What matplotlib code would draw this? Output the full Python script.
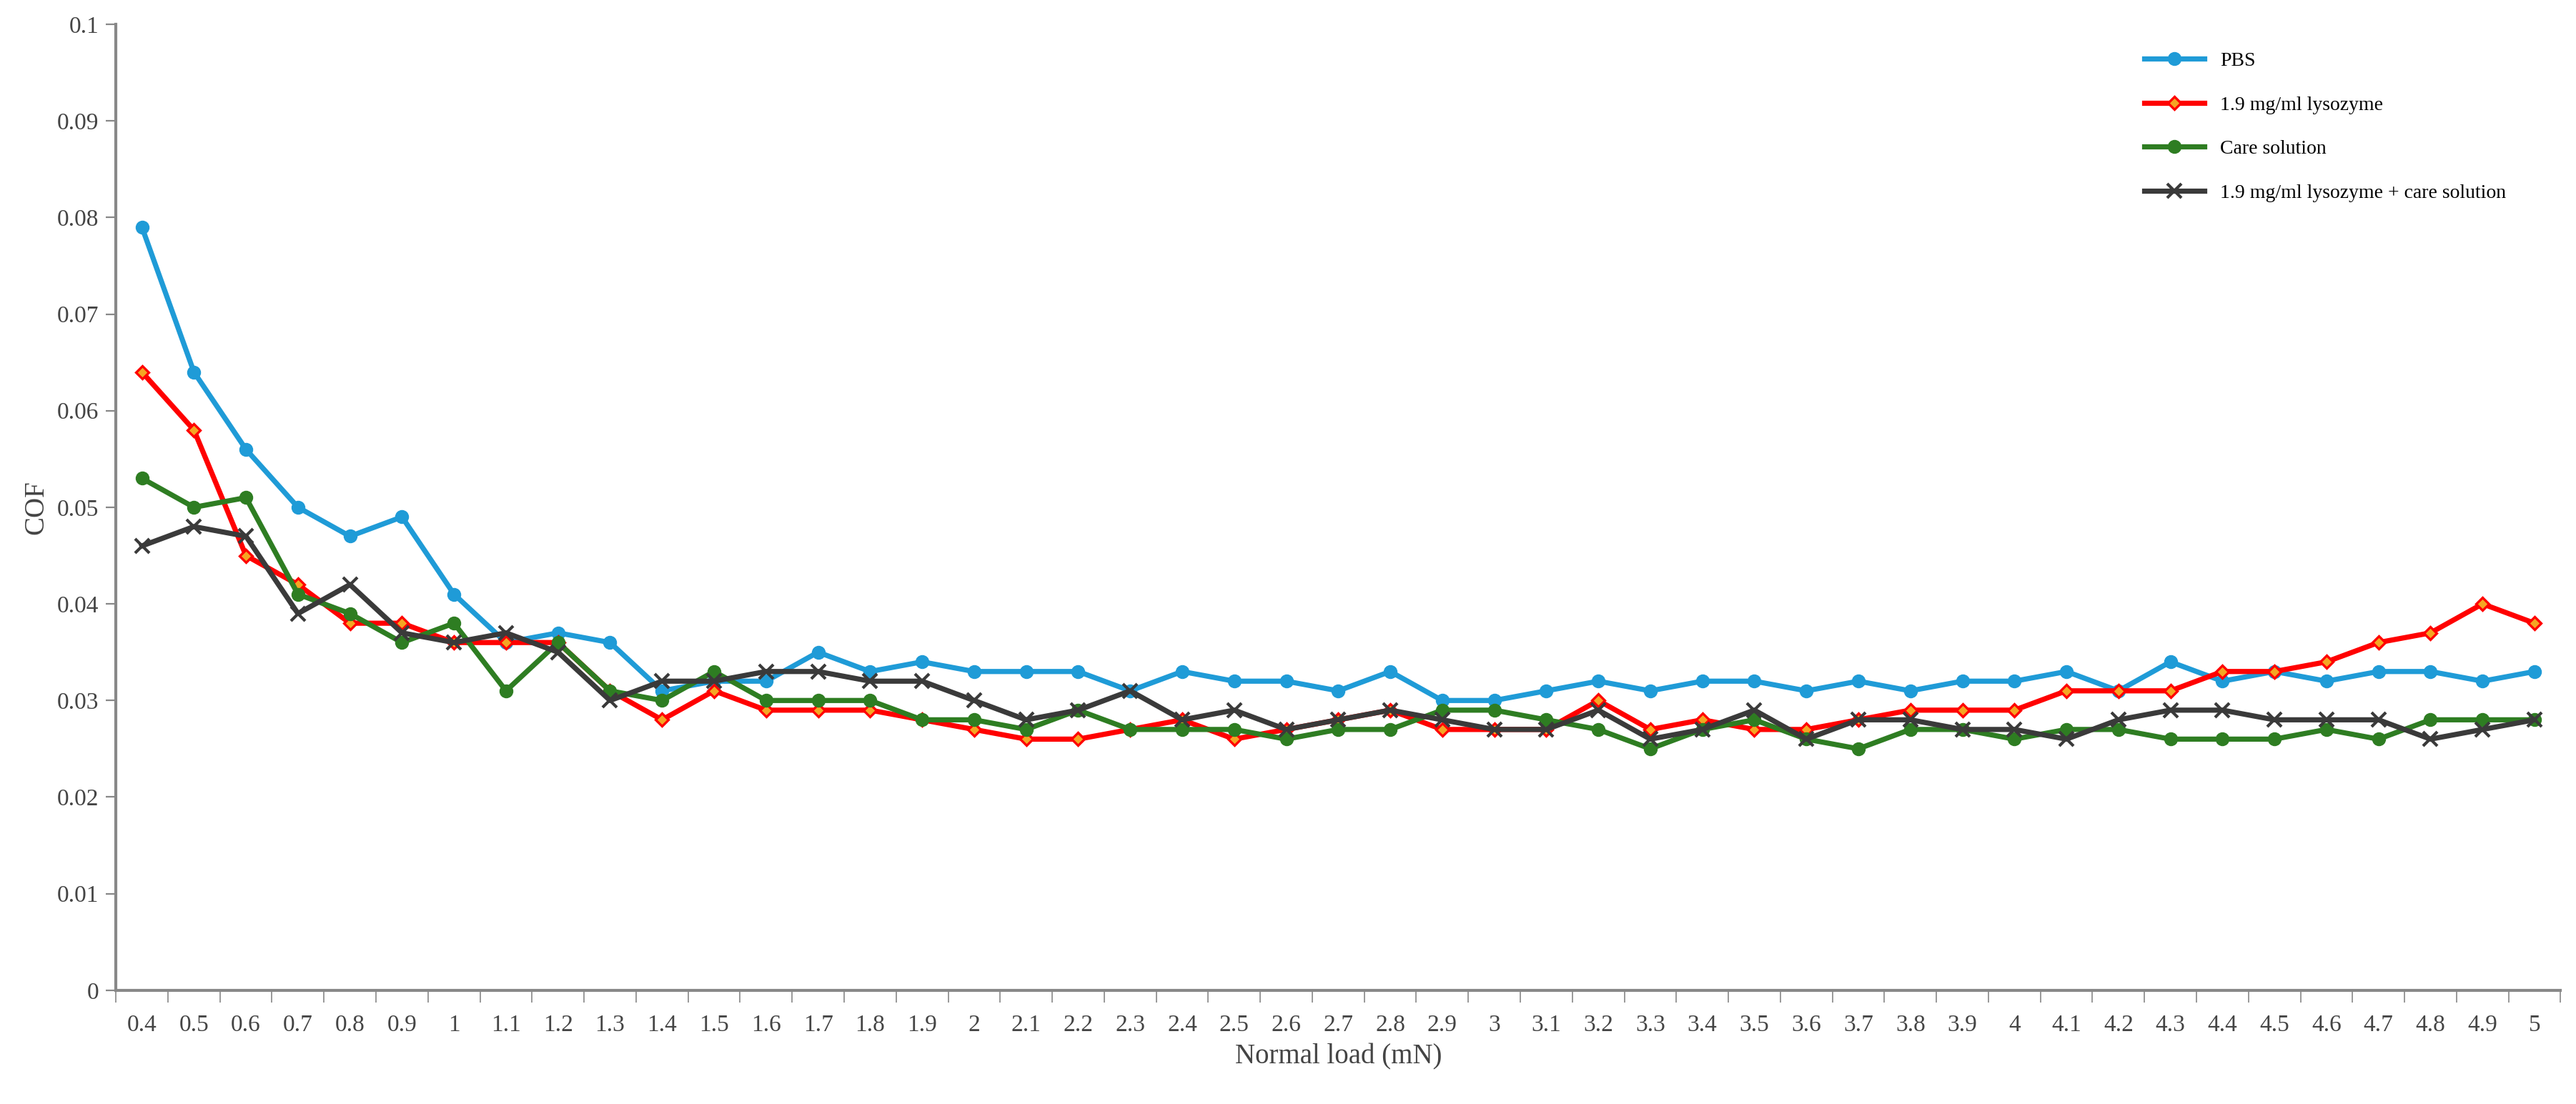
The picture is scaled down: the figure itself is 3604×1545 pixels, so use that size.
import matplotlib
matplotlib.use("Agg")
import matplotlib.pyplot as plt
import numpy as np

loads = ["0.4","0.5","0.6","0.7","0.8","0.9","1","1.1","1.2","1.3","1.4","1.5","1.6","1.7","1.8","1.9","2","2.1","2.2","2.3","2.4","2.5","2.6","2.7","2.8","2.9","3","3.1","3.2","3.3","3.4","3.5","3.6","3.7","3.8","3.9","4","4.1","4.2","4.3","4.4","4.5","4.6","4.7","4.8","4.9","5"]
pbs = [.079,.064,.056,.050,.047,.049,.041,.036,.037,.036,.031,.032,.032,.035,.033,.034,.033,.033,.033,.031,.033,.032,.032,.031,.033,.030,.030,.031,.032,.031,.032,.032,.031,.032,.031,.032,.032,.033,.031,.034,.032,.033,.032,.033,.033,.032,.033]
lys = [.064,.058,.045,.042,.038,.038,.036,.036,.036,.031,.028,.031,.029,.029,.029,.028,.027,.026,.026,.027,.028,.026,.027,.028,.029,.027,.027,.027,.030,.027,.028,.027,.027,.028,.029,.029,.029,.031,.031,.031,.033,.033,.034,.036,.037,.040,.038]
care = [.053,.050,.051,.041,.039,.036,.038,.031,.036,.031,.030,.033,.030,.030,.030,.028,.028,.027,.029,.027,.027,.027,.026,.027,.027,.029,.029,.028,.027,.025,.027,.028,.026,.025,.027,.027,.026,.027,.027,.026,.026,.026,.027,.026,.028,.028,.028]
both = [.046,.048,.047,.039,.042,.037,.036,.037,.035,.030,.032,.032,.033,.033,.032,.032,.030,.028,.029,.031,.028,.029,.027,.028,.029,.028,.027,.027,.029,.026,.027,.029,.026,.028,.028,.027,.027,.026,.028,.029,.029,.028,.028,.028,.026,.027,.028]

plt.rcParams['font.family'] = ['Liberation Serif', 'DejaVu Serif']
fig = plt.figure(figsize=(18.02, 7.725), dpi=200)
ax = fig.add_axes([0.045, 0.103, 0.949, 0.875])
x = np.arange(len(loads))
ax.plot(x, pbs, color='#1f9bd7', lw=2.6, marker='o', ms=6, label='PBS')
ax.plot(x, lys, color='#ff0000', lw=2.6, marker='D', ms=4.5, mfc='#f5a623', mec='#ff0000', mew=1.2, label='1.9 mg/ml lysozyme')
ax.plot(x, care, color='#2e7d22', lw=2.6, marker='o', ms=6, label='Care solution')
ax.plot(x, both, color='#3a3a3a', lw=2.6, marker='x', ms=7, mew=1.5, label='1.9 mg/ml lysozyme + care solution')

ax.set_xlim(-0.5, len(loads) - 0.5)
ax.set_ylim(0, 0.1)
ax.set_yticks(np.arange(0, 0.101, 0.01))
ax.set_yticklabels(['0'] + [f'{v:.2f}'.rstrip('0') for v in np.arange(0.01, 0.101, 0.01)])
ax.set_xticks(x)
ax.set_xticklabels(loads)
ax.set_xticks(np.arange(-0.5, len(loads), 1), minor=True)
ax.tick_params(axis='x', which='major', length=0, pad=12, labelsize=12, colors='#444444')
ax.tick_params(axis='x', which='minor', length=6, color='#888888', direction='out')
ax.tick_params(axis='y', length=5, color='#888888', labelsize=12, labelcolor='#444444')
for s in ['top', 'right']:
    ax.spines[s].set_visible(False)
for s in ['left', 'bottom']:
    ax.spines[s].set_color('#888888')
    ax.spines[s].set_linewidth(1.5)
ax.set_xlabel('Normal load (mN)', fontsize=14, color='#444444')
ax.set_ylabel('COF', fontsize=14, color='#444444')
ax.legend(loc='upper right', bbox_to_anchor=(0.985, 0.99), frameon=False, fontsize=10, labelspacing=1.3, handlelength=3)
fig.savefig('out.png', dpi=200)
